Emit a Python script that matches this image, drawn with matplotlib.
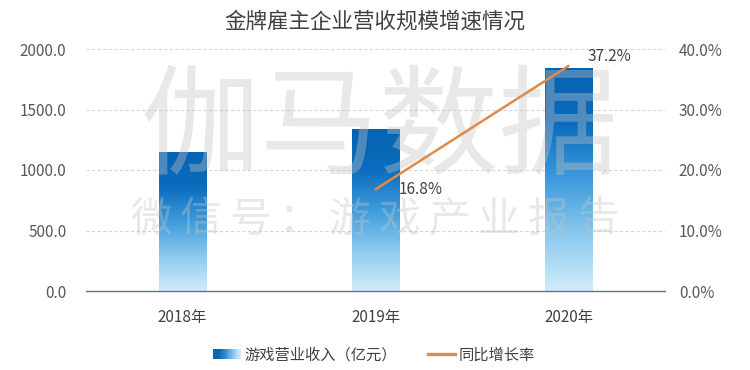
import numpy as np
import matplotlib
matplotlib.use("Agg")
import matplotlib.pyplot as plt
from matplotlib.colors import LinearSegmentedColormap
from matplotlib.patches import Rectangle
from matplotlib.lines import Line2D
from matplotlib.legend_handler import HandlerBase

plt.rcParams['font.family'] = ['Noto Sans CJK SC', 'DejaVu Sans']

# ---- data ----
title = "金牌雇主企业营收规模增速情况"
categories = ["2018年", "2019年", "2020年"]
revenue = [1150.0, 1342.0, 1842.0]          # 游戏营业收入（亿元）
growth = [np.nan, 16.8, 37.2]               # 同比增长率 (%)
growth_labels = ["", "16.8%", "37.2%"]
left_ticks = [0, 500, 1000, 1500, 2000]
right_ticks = [0, 10, 20, 30, 40]
bar_name = "游戏营业收入（亿元）"
line_name = "同比增长率"
wm_big = "伽马数据"
wm_small = "微信号：游戏产业报告"

# ---- style ----
text_col = "#404040"
tick_col = "#595959"
line_col = "#e08a48"
grad = LinearSegmentedColormap.from_list(
    "g", ["#d2ecfa", "#8ccaee", "#3d9bdc", "#0a6cbd", "#0563b2"])

fig = plt.figure(figsize=(7.5, 3.7), dpi=100)
ax = fig.add_axes([86/750, 79/370, (665-86)/750, 242/370])
ax2 = ax.twinx()

x = np.arange(len(categories))
bw = 0.245
bars = ax.bar(x, revenue, width=bw, color="none", edgecolor="none", zorder=2)
gimg = np.linspace(0, 1, 256).reshape(-1, 1)
for b in bars:
    x0, y0 = b.get_x(), b.get_y()
    w, h = b.get_width(), b.get_height()
    im = ax.imshow(gimg, cmap=grad, origin="lower", aspect="auto",
                   extent=[x0, x0 + w, y0, y0 + h], zorder=2)
    im.set_clip_path(b)

ax.set_xlim(-0.5, 2.5)
ax.set_ylim(0, 2000)
ax.set_yticks(left_ticks)
ax.set_yticklabels([f"{v:.1f}" for v in left_ticks])
ax.set_xticks(x)
ax.set_xticklabels(categories)
ax.yaxis.grid(True, linestyle=(0, (3, 2)), color="#d6d6d6", linewidth=0.8, zorder=0)
ax.set_axisbelow(True)
for s in ["top", "left", "right"]:
    ax.spines[s].set_visible(False)
ax.spines["bottom"].set_color("#4a7b9d")
ax.spines["bottom"].set_linewidth(1.0)
ax.tick_params(axis="y", length=0, pad=14, labelsize=11, labelcolor=tick_col)
ax.tick_params(axis="x", length=0, pad=13, labelsize=11, labelcolor=text_col)

ax2.set_ylim(0, 40)
ax2.set_yticks(right_ticks)
ax2.set_yticklabels([f"{v:.1f}%" for v in right_ticks])
ax2.tick_params(axis="y", length=0, pad=10, labelsize=11, labelcolor=tick_col)
for s in ["top", "left", "right", "bottom"]:
    ax2.spines[s].set_visible(False)
line, = ax2.plot(x, growth, color=line_col, linewidth=1.8, zorder=3,
                 solid_capstyle="round")
offsets = [(0, 0), (17, 0), (14, 7)]
for xi, g, lab, off in zip(x, growth, growth_labels, offsets):
    if lab:
        ax2.annotate(lab, (xi, g), xytext=off, textcoords="offset points",
                     ha="left", va="center", fontsize=11, color=text_col)

# ---- watermark (drawn above the bars, below the line) ----
ax.text(0.506, 1 - 131/370, wm_big, transform=fig.transFigure, ha="center",
        va="center", fontsize=86, fontweight="light", color="#c4c4c4",
        alpha=0.38, zorder=5)
n = len(wm_small)
xs = np.linspace(151/750, 598/750, n)
for ch, xx in zip(wm_small, xs):
    ax.text(xx, 1 - 220/370, ch, transform=fig.transFigure, ha="center",
            va="center", fontsize=30, fontweight="light", color="#c4c4c4",
            alpha=0.38, zorder=5)

# ---- title ----
fig.text(0.5, 1 - 22/370, title, ha="center", va="center", fontsize=15.5,
         color=text_col)

# ---- legend ----
class GradientHandler(HandlerBase):
    def create_artists(self, legend, orig_handle, xdescent, ydescent,
                       width, height, fontsize, trans):
        m = 24
        arts = []
        for i in range(m):
            c = grad(1 - i / (m - 1))
            r = Rectangle((-xdescent + width * i / m, -ydescent), width / m + 0.3,
                          height, facecolor=c, edgecolor="none", transform=trans)
            arts.append(r)
        return arts

bar_proxy = Rectangle((0, 0), 1, 1)
line_proxy = Line2D([0], [0], color=line_col, linewidth=2.4)
fig.legend([bar_proxy, line_proxy], [bar_name, line_name], loc="center",
           bbox_to_anchor=(0.499, 1 - 355/370), ncol=2, frameon=False,
           fontsize=11, handlelength=1.8, handleheight=0.65, handletextpad=0.25,
           columnspacing=2.0, labelcolor=text_col,
           handler_map={Rectangle: GradientHandler()})

fig.savefig("out.png", dpi=100, facecolor="white")
